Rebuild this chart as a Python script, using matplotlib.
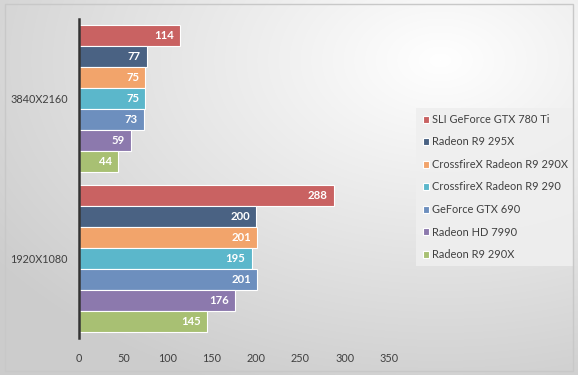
import numpy as np
import matplotlib.pyplot as plt
from matplotlib.patches import Rectangle

# data
resolutions = ["3840X2160", "1920X1080"]
cards = ["SLI GeForce GTX 780 Ti", "Radeon R9 295X", "CrossfireX Radeon R9 290X",
         "CrossfireX Radeon R9 290", "GeForce GTX 690", "Radeon HD 7990", "Radeon R9 290X"]
fps_4k = [114, 77, 75, 75, 73, 59, 44]
fps_1080 = [288, 200, 201, 195, 201, 176, 145]
colors = ["#C96262", "#4A6283", "#F2A46B", "#5BB7CB", "#6D8FBE", "#8C79AD", "#A8C073"]
xticks = [0, 50, 100, 150, 200, 250, 300, 350]

plt.rcParams["font.family"] = ["Lato", "DejaVu Sans"]

W, H = 578, 375
fig = plt.figure(figsize=(W / 100, H / 100), dpi=100)

# radial gradient background
bg = fig.add_axes([0, 0, 1, 1], zorder=-10)
yy, xx = np.mgrid[0:H, 0:W]
r = np.hypot((xx - 440) / W, (yy - 60) / H)
r = np.clip(r / 0.95, 0, 1)
shade = 1.0 - 0.2 * r
img = np.dstack([shade, shade, shade])
bg.imshow(img, aspect="auto", extent=[0, 1, 0, 1], origin="upper")
bg.set_axis_off()
fig.patches.append(Rectangle((5 / W, 4 / H), 568 / W, 367 / H, transform=fig.transFigure,
                             fill=False, edgecolor="#c8c8c8", linewidth=1))

ax = fig.add_axes([79 / W, 1 - 338 / H, (389 - 79) / W, (338 - 19) / H])
ax.patch.set_alpha(0)

n = len(cards)
group_w = 0.92
bw = group_w / n
y = np.arange(len(resolutions))
for i, name in enumerate(cards):
    vals = [fps_4k[i], fps_1080[i]]
    pos = y - group_w / 2 + bw * (i + 0.5)
    bars = ax.barh(pos, vals, height=bw, color=colors[i], edgecolor="white",
                   linewidth=0.8, label=name)
    for b, v in zip(bars, vals):
        ax.text(b.get_width() - 7, b.get_y() + b.get_height() / 2, str(v),
                ha="right", va="center", color="white", fontsize=8.2, fontweight="bold")

ax.set_ylim(1.5, -0.5)
ax.set_xlim(0, 350)
ax.set_xticks(xticks)
ax.set_yticks(y)
ax.set_yticklabels(resolutions)
ax.tick_params(axis="both", length=0, labelsize=7.8, colors="#404040")
ax.tick_params(axis="x", pad=11)
ax.tick_params(axis="y", pad=8)
for s in ["top", "right", "bottom"]:
    ax.spines[s].set_visible(False)
ax.spines["left"].set_color("#333333")
ax.spines["left"].set_linewidth(1.8)

leg = ax.legend(loc="center left", bbox_to_anchor=(411 / W, 1 - 187 / H),
                bbox_transform=fig.transFigure, frameon=True, fontsize=7.9,
                handlelength=0.6, handleheight=0.6, handletextpad=0.3,
                labelspacing=1.05, borderpad=0.55, fancybox=False)
leg.get_frame().set_facecolor("#efefef")
leg.get_frame().set_edgecolor("none")
leg.get_frame().set_alpha(0.9)
for t in leg.get_texts():
    t.set_color("#404040")

fig.savefig("out.png", dpi=100)
